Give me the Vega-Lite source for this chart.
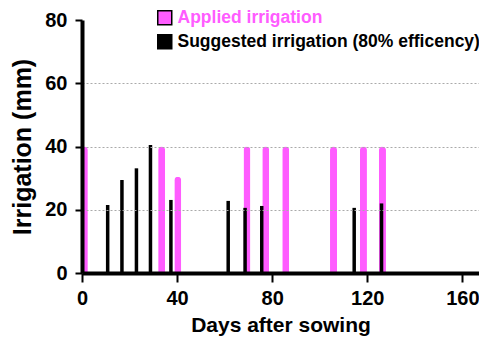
{
  "$schema": "https://vega.github.io/schema/vega-lite/v6.json",
  "width": 397,
  "height": 253,
  "autosize": {"type": "none"},
  "padding": {"left": 82, "top": 20, "right": 0, "bottom": 70},
  "background": "white",
  "config": {
    "font": "Liberation Sans",
    "view": {"stroke": null},
    "axis": {"labelFont": "Liberation Sans", "titleFont": "Liberation Sans"}
  },
  "data": {
    "values": [
      {"day": 1, "mm": 40, "series": "Applied irrigation"},
      {"day": 33.5, "mm": 40, "series": "Applied irrigation"},
      {"day": 40.3, "mm": 30.4, "series": "Applied irrigation"},
      {"day": 69.4, "mm": 40, "series": "Applied irrigation"},
      {"day": 77.3, "mm": 40, "series": "Applied irrigation"},
      {"day": 85.7, "mm": 40, "series": "Applied irrigation"},
      {"day": 105.8, "mm": 40, "series": "Applied irrigation"},
      {"day": 118.4, "mm": 40, "series": "Applied irrigation"},
      {"day": 126.4, "mm": 40, "series": "Applied irrigation"},
      {"day": 10.8, "mm": 21.5, "series": "Suggested irrigation (80% efficency)"},
      {"day": 16.8, "mm": 29.4, "series": "Suggested irrigation (80% efficency)"},
      {"day": 22.9, "mm": 33.1, "series": "Suggested irrigation (80% efficency)"},
      {"day": 28.8, "mm": 40.5, "series": "Suggested irrigation (80% efficency)"},
      {"day": 37.4, "mm": 23.1, "series": "Suggested irrigation (80% efficency)"},
      {"day": 61.5, "mm": 22.8, "series": "Suggested irrigation (80% efficency)"},
      {"day": 68.6, "mm": 20.6, "series": "Suggested irrigation (80% efficency)"},
      {"day": 75.6, "mm": 21.2, "series": "Suggested irrigation (80% efficency)"},
      {"day": 114.5, "mm": 20.6, "series": "Suggested irrigation (80% efficency)"},
      {"day": 126, "mm": 22, "series": "Suggested irrigation (80% efficency)"}
    ]
  },
  "encoding": {
    "x": {
      "field": "day", "type": "quantitative",
      "scale": {"domain": [0, 167], "nice": false, "zero": true, "padding": 0},
      "axis": {
        "title": "Days after sowing",
        "values": [0, 40, 80, 120, 160],
        "grid": false,
        "domainColor": "black", "domainWidth": 4,
        "tickColor": "black", "tickWidth": 2, "tickSize": 9,
        "labelFontSize": 20, "labelFontWeight": "bold", "labelColor": "black", "labelPadding": 6,
        "labelFlush": false,
        "titleFontSize": 21, "titleFontWeight": "bold", "titleColor": "black", "titlePadding": 6,
        "zindex": 1
      }
    },
    "y": {
      "field": "mm", "type": "quantitative",
      "scale": {"domain": [0, 80], "nice": false, "padding": 0},
      "axis": {
        "title": "Irrigation (mm)",
        "values": [0, 20, 40, 60, 80],
        "grid": true,
        "gridColor": "#aaaaaa", "gridDash": [2, 2], "gridWidth": 1,
        "gridOpacity": {"condition": {"test": "datum.value == 0 || datum.value == 80", "value": 0}, "value": 1},
        "domainColor": "black", "domainWidth": 4,
        "tickColor": "black", "tickWidth": 2, "tickSize": 7,
        "labelFontSize": 20, "labelFontWeight": "bold", "labelColor": "black", "labelPadding": 8,
        "labelFlush": false,
        "titleFontSize": 25, "titleFontWeight": "bold", "titleColor": "black", "titlePadding": 9,
        "zindex": 1
      }
    },
    "color": {
      "field": "series", "type": "nominal",
      "scale": {"domain": ["Applied irrigation", "Suggested irrigation (80% efficency)"], "range": ["#ff5cff", "#000000"]},
      "legend": {
        "title": null,
        "orient": "none",
        "legendX": 74,
        "legendY": -11,
        "padding": 0,
        "symbolType": "square",
        "symbolSize": 196,
        "symbolStrokeColor": "black",
        "symbolStrokeWidth": 1.5,
        "symbolOpacity": 1,
        "labelFontSize": 17.5,
        "labelFontWeight": "bold",
        "labelFont": "Liberation Sans",
        "labelLimit": 0,
        "labelOffset": 4,
        "rowPadding": 3,
        "labelColor": {"expr": "datum.label == 'Applied irrigation' ? '#ff5cff' : 'black'"}
      }
    }
  },
  "layer": [
    {
      "transform": [{"filter": "datum.series == 'Applied irrigation'"}],
      "mark": {"type": "bar", "width": 7, "cornerRadiusTopLeft": 3.5, "cornerRadiusTopRight": 3.5, "opacity": 1}
    },
    {
      "transform": [{"filter": "datum.series != 'Applied irrigation'"}],
      "mark": {"type": "bar", "width": 3.5, "opacity": 1}
    }
  ]
}
